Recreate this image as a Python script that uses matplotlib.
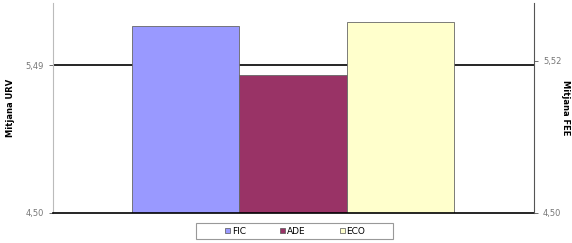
import matplotlib.pyplot as plt
from matplotlib.patches import Patch, Rectangle

groups = ["FIC", "ADE", "ECO"]
means = [5.75, 5.42, 5.78]
colors = ["#9999ff", "#993366", "#ffffcc"]
urv_ticks = [4.50, 5.49]
fee_ticks = [4.50, 5.52]
urv_mean = 5.49

fig = plt.figure(figsize=(5.72, 2.43), dpi=100)
ax = fig.add_axes([0.0927, 0.1235, 0.8409, 0.8642])

ax.bar(range(len(groups)), means, width=1.0, bottom=0, color=colors,
       edgecolor="#666666", linewidth=0.6, zorder=2)
ax.axhline(urv_mean, color="black", linewidth=1.2, zorder=1)

ax.set_xlim(-1.236, 3.245)
ax.set_ylim(4.50, 5.905)
ax.set_yticks(urv_ticks)
ax.set_yticklabels([f"{v:.2f}".replace(".", ",") for v in urv_ticks])
ax.set_xticks([])
ax.tick_params(axis="y", labelsize=6, colors="#555555", length=3, width=0.6)
for lab in ax.get_yticklabels():
    lab.set_color("#777777")
ax.spines["top"].set_visible(False)
ax.spines["right"].set_visible(False)
ax.spines["left"].set_color("#bbbbbb")
ax.spines["bottom"].set_color("black")
ax.spines["bottom"].set_linewidth(1.2)
ax.set_ylabel("Mitjana URV", fontsize=6, fontweight="bold")
ax.yaxis.set_label_coords(-0.079, 0.5)

ax2 = ax.twinx()
ax2.set_ylim(4.50, 5.909)
ax2.set_yticks(fee_ticks)
ax2.set_yticklabels([f"{v:.2f}".replace(".", ",") for v in fee_ticks])
ax2.tick_params(axis="y", labelsize=6, length=3, width=0.6, colors="#555555")
for lab in ax2.get_yticklabels():
    lab.set_color("#777777")
for s in ["top", "left", "bottom"]:
    ax2.spines[s].set_visible(False)
ax2.spines["right"].set_color("#555555")
ax2.set_ylabel("Mitjana FEE", fontsize=6, fontweight="bold", rotation=-90,
               va="center")
ax2.yaxis.set_label_coords(1.0645, 0.5)

# legend frame drawn separately (wider than the entries)
fig.patches.append(Rectangle((196 / 572, 4 / 243), 197 / 572, 16 / 243,
                             transform=fig.transFigure, facecolor="white",
                             edgecolor="#999999", linewidth=0.8))
handles = [Patch(facecolor=c, edgecolor="#555555", linewidth=0.5) for c in colors]
fig.legend(handles, groups, loc="center", bbox_to_anchor=(0.516, 0.049),
           ncol=3, fontsize=6.5, frameon=False,
           handlelength=0.55, handleheight=0.55,
           handletextpad=0.2, columnspacing=3.8)

fig.savefig("out.png", dpi=100)
